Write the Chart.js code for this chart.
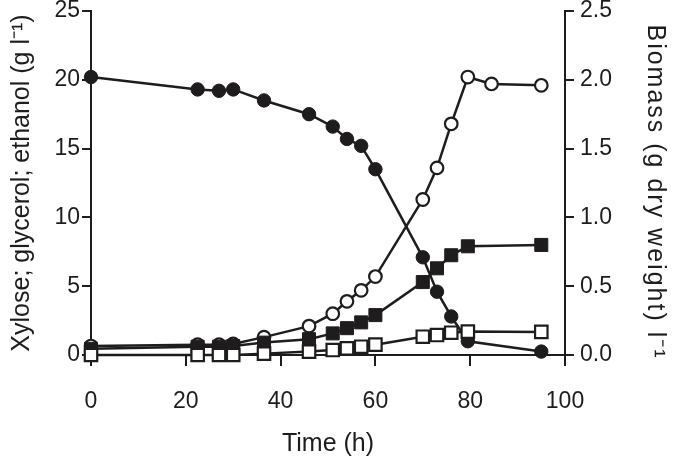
<!DOCTYPE html>
<html>
<head>
<meta charset="utf-8">
<script src="https://cdn.jsdelivr.net/npm/chart.js@4.4.1/dist/chart.umd.min.js"></script>
<style>
  html, body { margin: 0; padding: 0; background: #fff; }
  #wrap { width: 675px; height: 461px; }
</style>
</head>
<body>
<div id="wrap"><canvas id="chart" width="675" height="461"></canvas></div>
<script>
// sampling times (h)
const hours = [0, 22.5, 27, 30, 36.5, 46, 51, 54, 57, 60, 70, 73, 76, 79.5, 95];
const biomassHours = [0, 22.5, 27, 30, 36.5, 46, 51, 54, 57, 60, 70, 73, 76, 79.5, 84.5, 95];

// left axis, g/l
const xylose = [20.2, 19.3, 19.2, 19.3, 18.5, 17.5, 16.6, 15.7, 15.2, 13.5, 7.1, 4.6, 2.8, 1.0, 0.25];
const ethanol = [0.45, 0.6, 0.6, 0.65, 0.9, 1.15, 1.57, 1.95, 2.37, 2.9, 5.3, 6.3, 7.25, 7.9, 8.0];
const glycerol = [0, 0, 0, 0, 0.1, 0.25, 0.36, 0.49, 0.6, 0.75, 1.33, 1.45, 1.62, 1.7, 1.68];

// right axis, g dry weight/l
const biomass = [0.065, 0.075, 0.075, 0.08, 0.13, 0.21, 0.3, 0.39, 0.47, 0.57, 1.13, 1.36, 1.68, 2.02, 1.97, 1.96];

const ink = '#1e1c1d';
const font = 'Liberation Sans, Arial, Helvetica, sans-serif';

const pts = (xs, ys) => xs.map((x, i) => ({ x: x, y: ys[i] }));

const lineBase = {
  borderColor: ink,
  borderWidth: 2.5,
  tension: 0,
  clip: false,
  pointBorderColor: ink
};

// the right axis title in the original is set with wider letter spacing
// and sits a little lower than the middle of the axis
const spacedTitle = (s, px, dy) => {
  if (s._spaced) return;
  const orig = s.drawTitle.bind(s);
  s.drawTitle = function () {
    this.ctx.save();
    this.ctx.letterSpacing = px;
    this.ctx.translate(0, dy);
    orig();
    this.ctx.restore();
  };
  s._spaced = true;
};

new Chart(document.getElementById('chart'), {
  type: 'line',
  data: {
    datasets: [
      {
        ...lineBase,
        label: 'Glycerol',
        order: 0,
        data: pts(hours, glycerol),
        yAxisID: 'y',
        pointStyle: 'rect',
        pointRadius: 8.8,
        pointBackgroundColor: '#fff',
        pointBorderWidth: 2.2
      },
      {
        ...lineBase,
        label: 'Ethanol',
        order: 1,
        data: pts(hours, ethanol),
        yAxisID: 'y',
        pointStyle: 'rect',
        pointRadius: 9.2,
        pointBackgroundColor: ink,
        pointBorderWidth: 1
      },
      {
        ...lineBase,
        label: 'Biomass',
        order: 2,
        data: pts(biomassHours, biomass),
        yAxisID: 'y2',
        pointStyle: 'circle',
        pointRadius: 6.3,
        pointBackgroundColor: '#fff',
        pointBorderWidth: 2.2
      },
      {
        ...lineBase,
        label: 'Xylose',
        order: 3,
        data: pts(hours, xylose),
        yAxisID: 'y',
        pointStyle: 'circle',
        pointRadius: 6.7,
        pointBackgroundColor: ink,
        pointBorderWidth: 1
      }
    ]
  },
  options: {
    responsive: false,
    animation: false,
    layout: { padding: { top: 10, left: 0, right: 0, bottom: 0 } },
    plugins: { legend: { display: false }, tooltip: { enabled: false } },
    scales: {
      x: {
        type: 'linear',
        min: 0,
        max: 100,
        ticks: { stepSize: 20, color: ink, padding: 22, font: { family: font, size: 23 } },
        grid: { drawOnChartArea: false, drawTicks: true, tickLength: 11, color: ink, lineWidth: 2 },
        border: { display: true, color: ink, width: 2 },
        title: { display: true, text: 'Time (h)', color: ink, padding: { top: 0, bottom: 2 }, font: { family: font, size: 25 } },
        afterFit: s => { s.height = 106; s.paddingLeft = 0; s.paddingRight = 0; }
      },
      y: {
        position: 'left',
        min: 0,
        max: 25,
        ticks: { stepSize: 5, color: ink, padding: 2, font: { family: font, size: 23 } },
        grid: { drawOnChartArea: false, drawTicks: true, tickLength: 9, color: ink, lineWidth: 2 },
        border: { display: true, color: ink, width: 2 },
        title: { display: true, text: 'Xylose; glycerol; ethanol (g l\u207B\u00B9)', color: ink, padding: { top: 7, bottom: 0 }, font: { family: font, size: 25 } },
        afterFit: s => { s.width = 91; s.paddingTop = 0; s.paddingBottom = 0; }
      },
      y2: {
        position: 'right',
        min: 0,
        max: 2.5,
        ticks: { stepSize: 0.5, color: ink, padding: 6, font: { family: font, size: 23 }, callback: v => v.toFixed(1) },
        grid: { drawOnChartArea: false, drawTicks: true, tickLength: 9, color: ink, lineWidth: 2 },
        border: { display: true, color: ink, width: 2 },
        title: { display: true, text: 'Biomass (g dry weight) l\u207B\u00B9', color: ink, padding: { top: 5, bottom: 0 }, font: { family: font, size: 25 } },
        afterFit: s => { s.width = 110; s.paddingTop = 0; s.paddingBottom = 0; spacedTitle(s, '2px', 9); }
      }
    }
  }
});
</script>
</body>
</html>
